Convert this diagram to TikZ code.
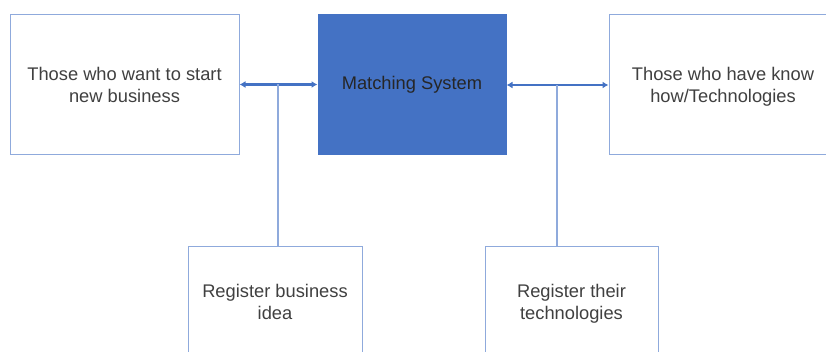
\documentclass[tikz,border=0pt]{standalone}
\usepackage{fontspec}
\setmainfont{Liberation Sans}
\usetikzlibrary{arrows.meta}
\definecolor{boxline}{HTML}{8FAADC}
\definecolor{mfill}{HTML}{4472C4}
\definecolor{txt}{HTML}{404040}
\definecolor{mtxt}{HTML}{262626}
\begin{document}
\begin{tikzpicture}[x=1pt,y=-1pt,
  box/.style={draw=boxline, line width=1pt, fill=white, rectangle, align=center,
    text=txt, font=\fontsize{18.3}{22}\selectfont, inner sep=0pt},
  mbox/.style={box, draw=mfill, fill=mfill, text=mtxt},
  link/.style={draw=mfill, line width=2.2pt, {Latex[length=6pt,width=7pt]}-{Latex[length=6pt,width=7pt]}},
  feed/.style={draw=boxline, line width=1.2pt}]
\useasboundingbox (0,0) rectangle (826,352);
\clip (0,0) rectangle (826,352);
\node[box, minimum width=229pt, minimum height=140pt] (left) at (124.5,84.5) {Those who want to start\\new business};
\node[mbox, minimum width=188pt, minimum height=140pt] (match) at (412,85) {Matching System};
\node[box, minimum width=228pt, minimum height=140pt, text depth=-4pt] (right) at (723,85) {Those who have know\\how/Technologies};
\node[box, minimum width=174pt, minimum height=110pt] (bl) at (275,302) {Register business\\idea};
\node[box, minimum width=173pt, minimum height=110pt, text depth=-4pt] (br) at (571.5,302) {Register their\\technologies};
\draw[link] (left.east) -- (left.east -| match.west);
\draw[link] (match.east) -- (match.east -| right.west);
\coordinate (j1) at (278,84.5);
\coordinate (j2) at (557,85);
\draw[feed] (j1) -- (j1 |- bl.north);
\draw[feed] (j2) -- (j2 |- br.north);
\end{tikzpicture}
\end{document}
